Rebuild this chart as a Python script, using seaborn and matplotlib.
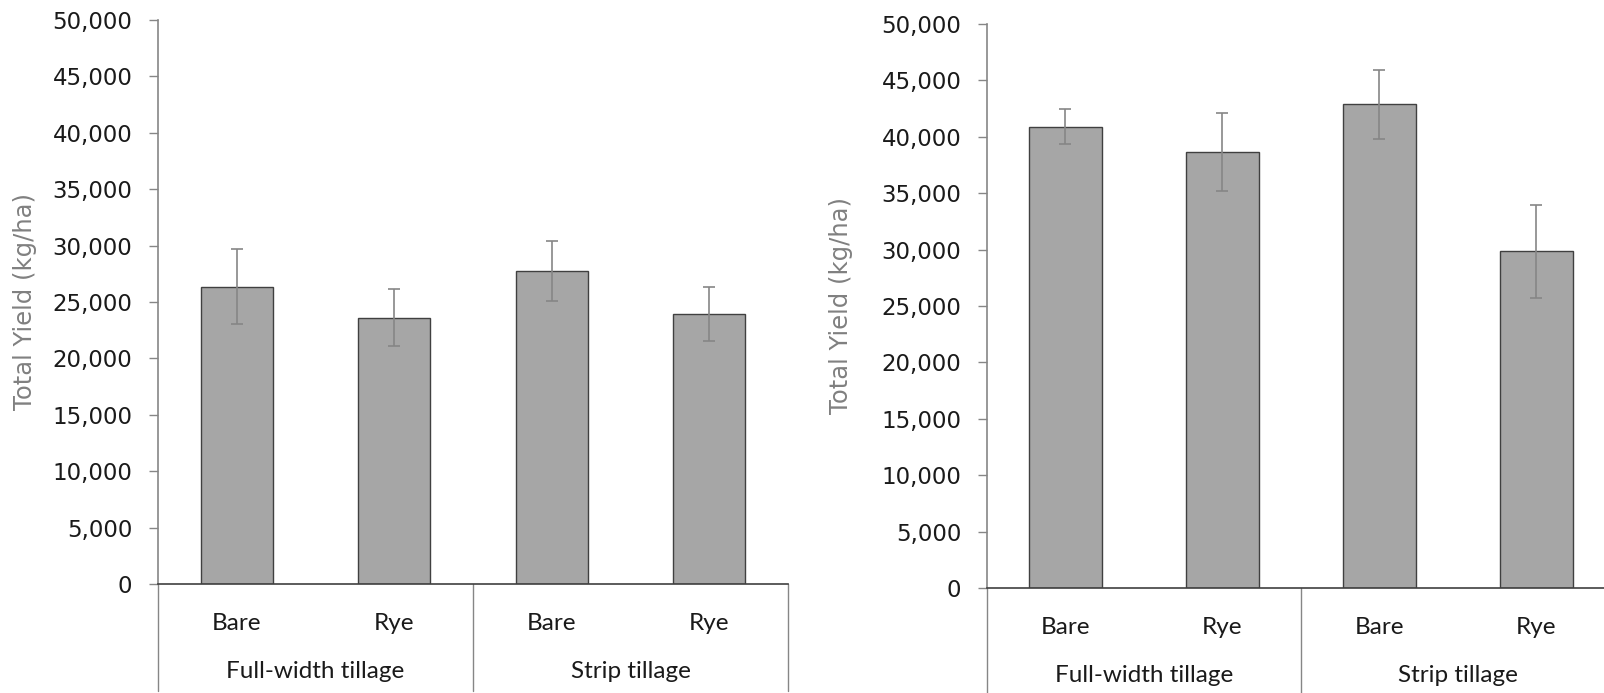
import numpy as np
import pandas as pd
import matplotlib
matplotlib.use("Agg")
import matplotlib.pyplot as plt
import seaborn as sns
from matplotlib.ticker import FuncFormatter, MultipleLocator

# === DATA ===
tillage = ["Full-width tillage", "Full-width tillage", "Strip tillage", "Strip tillage"]
cover = ["Bare", "Rye", "Bare", "Rye"]
groups = ["Full-width tillage", "Strip tillage"]

yield_left = [26350, 23600, 27780, 23960]
err_left = [3330, 2540, 2660, 2400]

yield_right = [40900, 38650, 42880, 29850]
err_right = [1580, 3430, 3060, 4120]

# === STYLE ===
BAR = "#A6A6A6"
EDGE = "#404040"
ERR = "#868686"
AXIS_GRAY = "#868686"
LABEL_FONT = ["Lato", "DejaVu Sans"]

sns.set_style("white")
plt.rcParams["font.family"] = ["DejaVu Sans"]


def draw_panel(ax, values, errors, ylabel_x):
    df = pd.DataFrame({
        "key": [f"{t}|{c}" for t, c in zip(tillage, cover)],
        "cover": cover,
        "yield": values,
    })
    sns.barplot(data=df, x="key", y="yield", color=BAR, saturation=1,
                edgecolor=EDGE, linewidth=1, width=0.46, errorbar=None, ax=ax)
    ax.errorbar(np.arange(len(values)), values, yerr=errors, fmt="none",
                ecolor=ERR, elinewidth=1.2, capsize=4.5, capthick=1.2, zorder=5)

    ax.set_xlim(-0.5, len(values) - 0.5)
    ax.set_ylim(0, 50000)
    ax.yaxis.set_major_locator(MultipleLocator(5000))
    ax.yaxis.set_major_formatter(FuncFormatter(lambda v, p: f"{v:,.0f}"))

    for s in ["top", "right"]:
        ax.spines[s].set_visible(False)
    ax.spines["left"].set_color(AXIS_GRAY)
    ax.spines["left"].set_linewidth(1.2)
    ax.spines["bottom"].set_color("#404040")
    ax.spines["bottom"].set_linewidth(1.2)

    ax.tick_params(axis="y", which="major", length=6.5, width=1, color=AXIS_GRAY,
                   labelsize=16.5, labelcolor="#1a1a1a", pad=12, left=True)
    ax.tick_params(axis="x", length=0, pad=21)
    ax.set_xticks(np.arange(len(values)))
    ax.set_xticklabels(cover, fontsize=17.5, family=LABEL_FONT, color="#1a1a1a")

    ax.set_xlabel("")
    ax.set_ylabel("Total Yield (kg/ha)", fontsize=17.5, color="#808080")
    ax.yaxis.set_label_coords(ylabel_x, 0.5)

    # group separators and group labels under the axis
    trans = ax.get_xaxis_transform()
    for xpos in [-0.5, 1.5, 3.5]:
        ax.plot([xpos, xpos], [0, -0.19], transform=trans, color=AXIS_GRAY,
                linewidth=1, clip_on=False)
    for i, g in enumerate(groups):
        ax.text(2 * i + 0.5, -0.156, g, transform=trans, ha="center", va="center",
                fontsize=17.5, family=LABEL_FONT, color="#1a1a1a")


fig = plt.figure(figsize=(16.04, 6.93), dpi=100)
ax1 = fig.add_axes([158 / 1604, 109 / 693, 630 / 1604, 564 / 693])
ax2 = fig.add_axes([987 / 1604, 105 / 693, 628 / 1604, 564 / 693])

draw_panel(ax1, yield_left, err_left, -0.192)
draw_panel(ax2, yield_right, err_right, -0.213)

fig.savefig("out.png", dpi=100, facecolor="white")
